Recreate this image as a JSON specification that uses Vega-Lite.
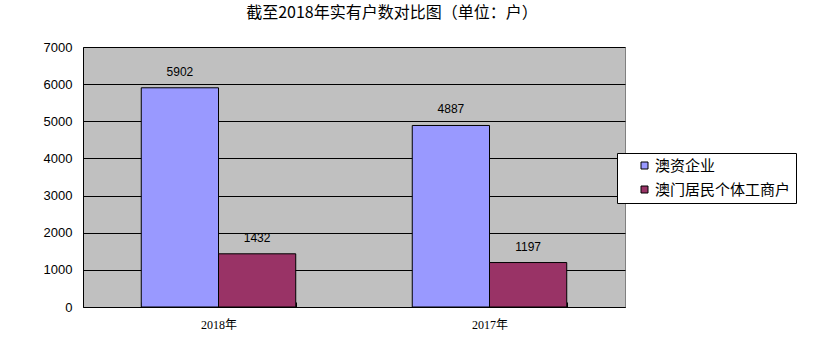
{
  "$schema": "https://vega.github.io/schema/vega-lite/v6.json",
  "autosize": {"type": "none"},
  "padding": {"left": 83, "top": 47, "right": 192, "bottom": 44},
  "width": 542,
  "height": 260,
  "background": "white",
  "title": {
    "text": "截至2018年实有户数对比图（单位：户）",
    "font": "Noto Sans CJK SC",
    "fontSize": 16,
    "fontWeight": "normal",
    "color": "#000000",
    "anchor": "middle",
    "dx": 38,
    "offset": 20
  },
  "data": {
    "values": [
      {"year": "2018年", "type": "澳资企业", "value": 5902},
      {"year": "2018年", "type": "澳门居民个体工商户", "value": 1432},
      {"year": "2017年", "type": "澳资企业", "value": 4887},
      {"year": "2017年", "type": "澳门居民个体工商户", "value": 1197}
    ]
  },
  "config": {
    "view": {"fill": "#C0C0C0", "stroke": "#808080", "strokeWidth": 1},
    "axis": {"labelColor": "#000000", "domainColor": "#000000", "tickColor": "#000000"}
  },
  "encoding": {
    "x": {
      "field": "year",
      "type": "nominal",
      "sort": ["2018年", "2017年"],
      "scale": {"paddingInner": 0.43, "paddingOuter": 0.215},
      "axis": {
        "title": null,
        "labelAngle": 0,
        "labelFont": "Liberation Serif, Noto Sans CJK SC",
        "labelFontSize": 12,
        "labelPadding": 17,
        "tickBand": "extent",
        "tickSize": -5,
        "tickWidth": 1,
        "domainColor": "#000000"
      }
    },
    "xOffset": {"field": "type", "type": "nominal", "sort": ["澳资企业", "澳门居民个体工商户"]},
    "y": {
      "field": "value",
      "type": "quantitative",
      "scale": {"domain": [0, 7000]},
      "axis": {
        "title": null,
        "values": [0, 1000, 2000, 3000, 4000, 5000, 6000, 7000],
        "format": "d",
        "labelOverlap": false,
        "labelFlush": false,
        "labelFont": "Liberation Sans",
        "labelFontSize": 13,
        "labelPadding": 11,
        "ticks": false,
        "gridColor": "#000000",
        "gridOpacity": 1,
        "gridWidth": 1,
        "domainColor": "#000000"
      }
    }
  },
  "layer": [
    {
      "mark": {"type": "bar", "stroke": "#000000", "strokeWidth": 1},
      "encoding": {
        "color": {
          "field": "type",
          "type": "nominal",
          "sort": ["澳资企业", "澳门居民个体工商户"],
          "scale": {"domain": ["澳资企业", "澳门居民个体工商户"], "range": ["#9999FF", "#993366"]},
          "legend": {
            "title": null,
            "orient": "none",
            "legendX": 534,
            "legendY": 106,
            "fillColor": "#FFFFFF",
            "strokeColor": "#000000",
            "padding": 5,
            "symbolOffset": 15,
            "symbolType": "square",
            "symbolSize": 49,
            "symbolStrokeColor": "#000000",
            "symbolStrokeWidth": 1,
            "labelFont": "Noto Sans CJK SC",
            "labelFontSize": 15,
            "labelColor": "#000000",
            "labelOffset": 3,
            "labelExpr": "datum.label + '       '",
            "rowPadding": 8,
            "labelLimit": 300
          }
        }
      }
    },
    {
      "mark": {"type": "text", "dy": -16, "baseline": "middle", "font": "Liberation Sans", "fontSize": 12, "color": "#000000"},
      "encoding": {"text": {"field": "value", "type": "quantitative"}}
    }
  ]
}
